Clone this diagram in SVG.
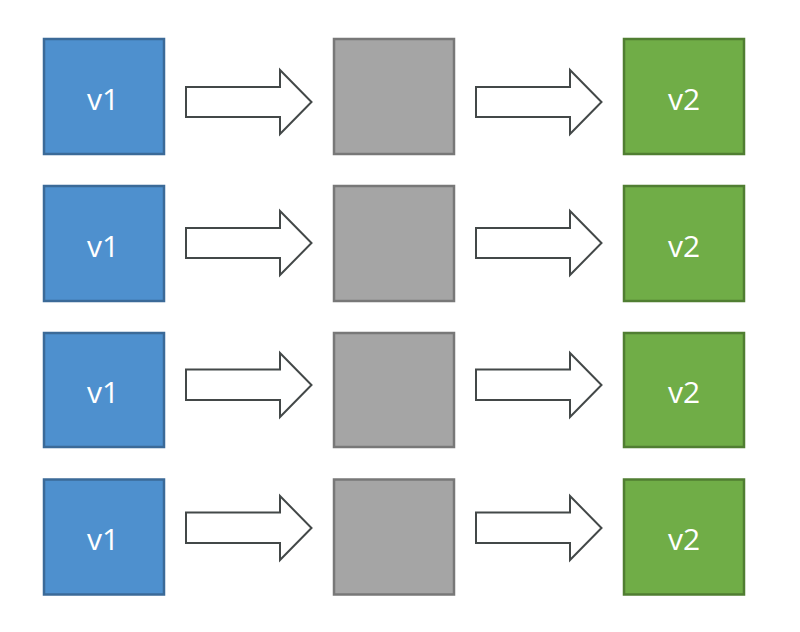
<svg xmlns="http://www.w3.org/2000/svg" width="800" height="632" viewBox="0 0 800 632">
<style>
.b{fill:#4e90ce;stroke:#3b6a98;stroke-width:2.5}
.g{fill:#a5a5a5;stroke:#787878;stroke-width:2.5}
.n{fill:#70ad47;stroke:#507e32;stroke-width:2.5}
.a{fill:#ffffff;stroke:#434848;stroke-width:2;stroke-linejoin:miter}
text{font-family:"Open Sans","Noto Sans","Liberation Sans",sans-serif;font-size:30px;fill:#ffffff;text-anchor:middle}
</style>
<rect width="800" height="632" fill="#ffffff"/>
<g id="row1">
<g id="v1-1"><rect class="b" x="44" y="39" width="120" height="115"/><text x="103" y="109.5">v1</text></g>
<g id="mid-1"><rect class="g" x="334" y="39" width="120" height="115"/></g>
<g id="v2-1"><rect class="n" x="624" y="39" width="120" height="115"/><text x="684" y="109.5">v2</text></g>
</g>
<g id="row2">
<g id="v1-2"><rect class="b" x="44" y="186" width="120" height="115"/><text x="103" y="256.5">v1</text></g>
<g id="mid-2"><rect class="g" x="334" y="186" width="120" height="115"/></g>
<g id="v2-2"><rect class="n" x="624" y="186" width="120" height="115"/><text x="684" y="256.5">v2</text></g>
</g>
<g id="row3">
<g id="v1-3"><rect class="b" x="44" y="333" width="120" height="114"/><text x="103" y="403">v1</text></g>
<g id="mid-3"><rect class="g" x="334" y="333" width="120" height="114"/></g>
<g id="v2-3"><rect class="n" x="624" y="333" width="120" height="114"/><text x="684" y="403">v2</text></g>
</g>
<g id="row4">
<g id="v1-4"><rect class="b" x="44" y="479.5" width="120" height="115"/><text x="103" y="550">v1</text></g>
<g id="mid-4"><rect class="g" x="334" y="479.5" width="120" height="115"/></g>
<g id="v2-4"><rect class="n" x="624" y="479.5" width="120" height="115"/><text x="684" y="550">v2</text></g>
</g>
<g id="connectors">
<path class="a" d="M186,87 H280 V70 L311.5,102 L280,134 V117 H186 Z"/>
<path class="a" d="M476,87 H570 V70 L601.5,102 L570,134 V117 H476 Z"/>
<path class="a" d="M186,228 H280 V211 L311.5,243 L280,275 V258 H186 Z"/>
<path class="a" d="M476,228 H570 V211 L601.5,243 L570,275 V258 H476 Z"/>
<path class="a" d="M186,369.5 H280 V353 L311.5,385 L280,417 V400 H186 Z"/>
<path class="a" d="M476,369.5 H570 V353 L601.5,385 L570,417 V400 H476 Z"/>
<path class="a" d="M186,512.5 H280 V496 L311.5,528 L280,560 V543 H186 Z"/>
<path class="a" d="M476,512.5 H570 V496 L601.5,528 L570,560 V543 H476 Z"/>
</g>
</svg>
